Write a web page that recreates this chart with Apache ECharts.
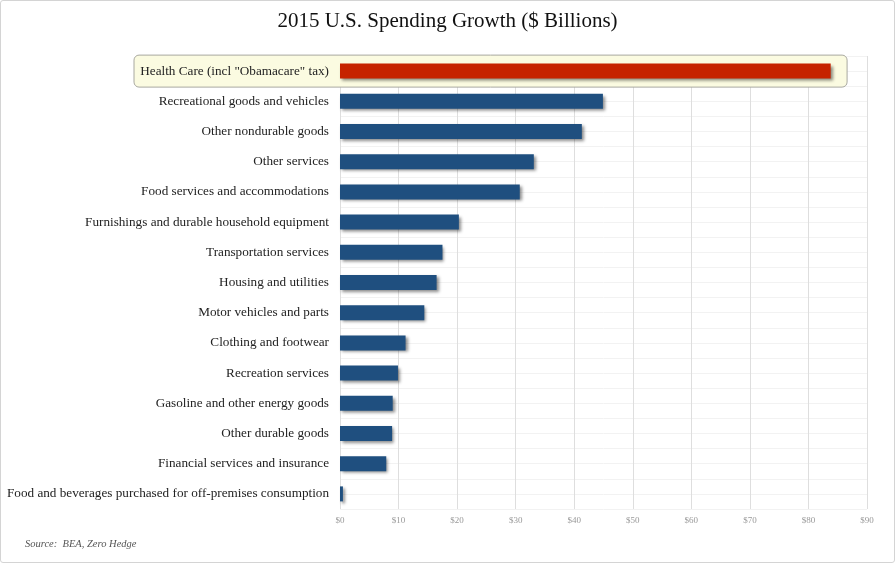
<!DOCTYPE html>
<html lang="en">
<head>
    <meta charset="UTF-8">
    <title>2015 U.S. Spending Growth</title>
    <script src="https://cdn.jsdelivr.net/npm/echarts@6/dist/echarts.min.js"></script>
    <style type="text/css">
        html, body { margin: 0; padding: 0; background: #fff; }
        #chart {
            width: 893px; height: 561px;
            border: 1px solid #d4d4d4; border-radius: 3px;
        }
    </style>
</head>
<body>
<div id="chart"></div>
<script type="text/javascript">
    var categories = [
        'Health Care (incl "Obamacare" tax)',
        'Recreational goods and vehicles',
        'Other nondurable goods',
        'Other services',
        'Food services and accommodations',
        'Furnishings and durable household equipment',
        'Transportation services',
        'Housing and utilities',
        'Motor vehicles and parts',
        'Clothing and footwear',
        'Recreation services',
        'Gasoline and other energy goods',
        'Other durable goods',
        'Financial services and insurance',
        'Food and beverages purchased for off-premises consumption'
    ];
    var growth = [83.8, 44.9, 41.3, 33.1, 30.7, 20.3, 17.5, 16.5, 14.4, 11.2, 9.9, 9.0, 8.9, 7.9, 0.5];
    var highlight = 'Health Care (incl "Obamacare" tax)';

    var serif = '"Liberation Serif", "DejaVu Serif", serif';
    var chart = echarts.init(document.getElementById('chart'));

    var option = {
        animation: false,
        title: {
            text: '2015 U.S. Spending Growth ($ Billions)',
            left: 'center',
            top: 5,
            textStyle: { fontFamily: serif, fontSize: 21, fontWeight: 'normal', color: '#111' }
        },
        grid: { left: 339, right: 27, top: 55, bottom: 53 },
        xAxis: {
            type: 'value',
            min: 0, max: 90, interval: 10,
            axisLine: { show: false },
            axisTick: { show: false },
            axisLabel: {
                formatter: '${value}',
                fontFamily: serif, fontSize: 9, color: '#999', margin: 7
            },
            splitLine: { lineStyle: { color: '#dedede', width: 1 } }
        },
        yAxis: [{
            type: 'category',
            data: categories,
            inverse: true,
            axisLine: { show: false },
            axisTick: { show: false },
            axisLabel: { fontFamily: serif, fontSize: 13.2, color: '#222', margin: 11 },
            splitLine: { show: false }
        }, {
            // faint half-row rules behind the bars
            type: 'value',
            min: 0, max: 30, interval: 1,
            position: 'right',
            axisLine: { show: false },
            axisTick: { show: false },
            axisLabel: { show: false },
            splitLine: { lineStyle: { color: '#f2f2f2', width: 1 } }
        }],
        series: [{
            type: 'bar',
            yAxisIndex: 0,
            data: growth,
            barWidth: 15,
            z: 3,
            itemStyle: {
                color: function (p) {
                    return categories[p.dataIndex] === highlight ? '#c62300' : '#1f4f7f';
                },
                shadowColor: 'rgba(0,0,0,0.45)',
                shadowBlur: 3,
                shadowOffsetX: 2,
                shadowOffsetY: 2
            }
        }]
    };
    chart.setOption(option);

    // rounded yellow box behind the highlighted row
    var yc = chart.convertToPixel({ yAxisIndex: 0 }, highlight);
    var xr = chart.convertToPixel({ xAxisIndex: 0 }, 86.6);
    chart.setOption({
        graphic: [{
            type: 'text',
            left: 24,
            top: 538,
            style: { text: 'Source:  BEA, Zero Hedge', font: 'italic 10.5px ' + serif, fill: '#555' }
        }, {
            type: 'rect',
            z: 0,
            shape: { x: 133, y: yc - 16, width: xr - 133, height: 32, r: 5 },
            style: { fill: '#fbfbe1', stroke: '#a8a8a0', lineWidth: 1 }
        }]
    });
</script>
</body>
</html>
